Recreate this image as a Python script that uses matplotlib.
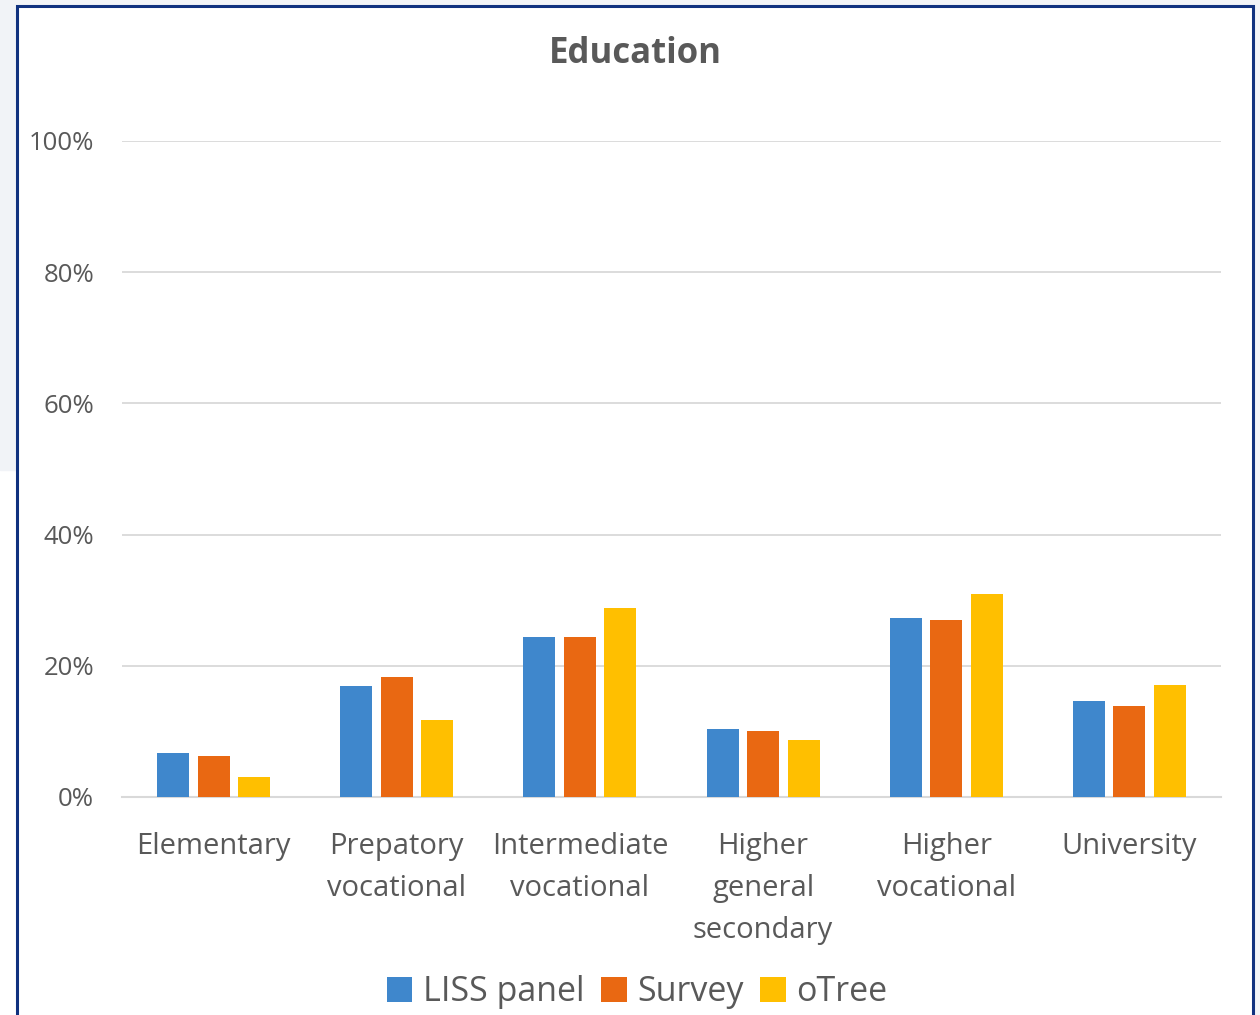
import matplotlib
matplotlib.use("Agg")
import matplotlib.pyplot as plt
import numpy as np
from matplotlib.patches import Rectangle

categories = ["Elementary", "Prepatory\nvocational", "Intermediate\nvocational",
              "Higher\ngeneral\nsecondary", "Higher\nvocational", "University"]
liss = [6.7, 16.9, 24.4, 10.4, 27.3, 14.6]
survey = [6.25, 18.3, 24.4, 10.1, 27.0, 13.9]
otree = [3.0, 11.7, 28.8, 8.7, 30.9, 17.1]
series = [("LISS panel", liss, "#3F87CC"), ("Survey", survey, "#E96812"), ("oTree", otree, "#FFBF00")]

plt.rcParams["font.family"] = ["Open Sans", "DejaVu Sans"]
W, H = 1260, 1015
fig = plt.figure(figsize=(W / 100, H / 100), dpi=100)

# page background and frame around the chart
bg = "#F1F3F7"
fig.patches.append(Rectangle((0, 1 - 470 / H), 16 / W, 470 / H, transform=fig.transFigure, color=bg, zorder=0))
fig.patches.append(Rectangle((0, 1 - 4 / H), 1, 4 / H, transform=fig.transFigure, color=bg, zorder=0))
fig.patches.append(Rectangle((1254 / W, 0), 6 / W, 1, transform=fig.transFigure, color=bg, zorder=0))
fig.patches.append(Rectangle((16.5 / W, -0.01), (1252.5 - 16.5) / W, 1 - 5.5 / H + 0.01, transform=fig.transFigure,
                             fill=False, edgecolor="#10317F", lw=2.2, zorder=1))

ax = fig.add_axes([122 / W, 1 - 797 / H, (1221 - 122) / W, (797 - 141) / H])
x = np.arange(len(categories))
w = 0.175
step = 0.221
for i, (name, vals, col) in enumerate(series):
    ax.bar(x + (i - 1) * step, vals, width=w, color=col, label=name, zorder=3)

ax.set_xlim(-0.5, len(categories) - 0.5)
ax.set_ylim(0, 100)
ax.set_yticks(range(0, 101, 20))
ax.set_yticklabels([f"{v}%" for v in range(0, 101, 20)])
ax.grid(axis="y", color="#D9D9D9", lw=1.3, zorder=0)
for s in ["top", "right", "left"]:
    ax.spines[s].set_visible(False)
ax.spines["bottom"].set_color("#D9D9D9")
ax.spines["bottom"].set_linewidth(1.5)
ax.tick_params(axis="y", length=0, pad=20, labelsize=18.5, labelcolor="#595959")
ax.tick_params(axis="x", length=0, pad=25, labelsize=21, labelcolor="#595959")
ax.set_xticks(x)
ax.set_xticklabels(categories, linespacing=1.6, va="top")

fig.text(635 / W, 1 - 54 / H, "Education", ha="center", va="center", fontsize=25,
         fontweight="bold", color="#595959")

leg = fig.legend(loc="center", bbox_to_anchor=(637 / W, 1 - 992 / H), ncol=3, frameon=False,
                 fontsize=24.5, labelcolor="#595959", handlelength=0.75, handleheight=0.75,
                 handletextpad=0.3, columnspacing=0.5)

fig.savefig("out.png", dpi=100)
